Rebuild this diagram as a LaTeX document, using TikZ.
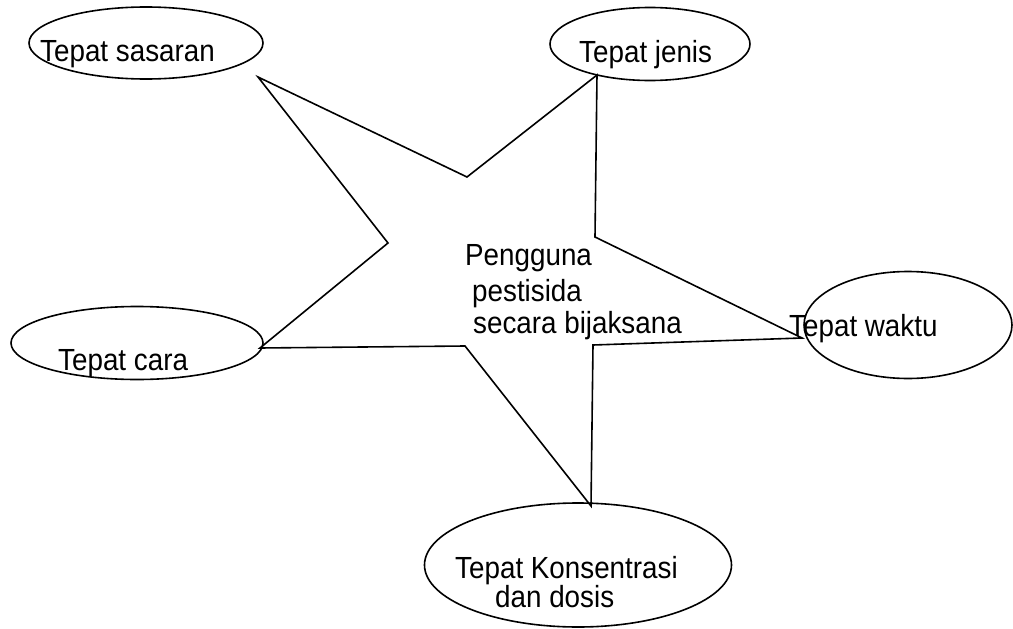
\documentclass[tikz,border=0pt]{standalone}
\usepackage{fontspec}
\setmainfont{Liberation Sans}
\usetikzlibrary{shapes.geometric}
\newcommand{\vtxt}[1]{\scalebox{1}[1.1]{#1}}
\tikzset{
  oval/.style={ellipse, draw, line width=1.6pt, inner sep=0pt},
  lbl/.style={anchor=base west, inner sep=0pt, font=\fontsize{27.8}{32}\selectfont},
  starline/.style={line width=1.6pt, line join=miter}
}
\begin{document}
\begin{tikzpicture}[x=1pt,y=-1pt]
\useasboundingbox[fill=white] (0,0) rectangle (1013,629);
% ovals
\node[oval, minimum width=234pt, minimum height=72pt] (sasaran) at (146,43) {};
\node[oval, minimum width=200pt, minimum height=73pt] (jenis) at (650,44) {};
\node[oval, minimum width=252pt, minimum height=73pt] (cara) at (137,343) {};
\node[oval, minimum width=208pt, minimum height=107pt] (waktu) at (908,325) {};
\node[oval, minimum width=307pt, minimum height=124pt] (dosis) at (578,565) {};
% star vertices
\coordinate (s1) at (258,77);
\coordinate (s2) at (467,177);
\coordinate (s3) at (597,75);
\coordinate (s4) at (595,237);
\coordinate (s5) at (802,338);
\coordinate (s6) at (593,345);
\coordinate (s7) at (591,506);
\coordinate (s8) at (465,346);
\coordinate (s9) at (260,348);
\coordinate (s10) at (388,243);
\draw[starline] (s1) -- (s2) -- (s3) -- (s4) -- (s5) -- (s6) -- (s7) -- (s8) -- (s9) -- (s10) -- cycle;
% labels
\node[lbl] (t1) at (40,61) {\vtxt{Tepat sasaran}};
\node[lbl] (t2) at (579,62) {\vtxt{Tepat jenis}};
\node[lbl] (t3) at (58,370) {\vtxt{Tepat cara}};
\node[lbl] (t4) at (789,336) {\vtxt{Tepat waktu}};
\node[lbl] (c1) at (465,265) {\vtxt{Pengguna}};
\node[lbl] (c2) at (472,301) {\vtxt{pestisida}};
\node[lbl] (c3) at (473,333) {\vtxt{secara bijaksana}};
\node[lbl] (t5) at (455,578) {\vtxt{Tepat Konsentrasi}};
\node[lbl] (t6) at (495,607) {\vtxt{dan dosis}};
\end{tikzpicture}
\end{document}
